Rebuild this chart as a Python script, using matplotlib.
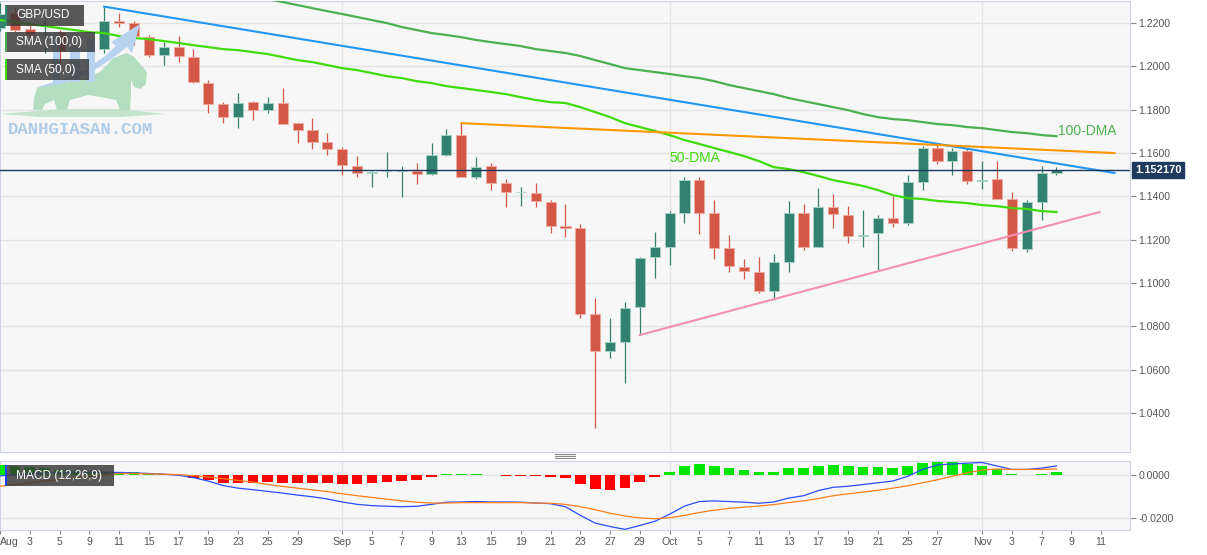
import matplotlib
matplotlib.use("Agg")
import matplotlib.pyplot as plt
import numpy as np
import pandas as pd
from matplotlib.patches import Rectangle, Polygon
from matplotlib.lines import Line2D

plt.rcParams['font.family'] = ['Liberation Sans', 'DejaVu Sans']

# --- data (GBP/USD daily, Aug 1 - Nov 8) ---
dates = pd.bdate_range('2022-08-01', '2022-11-08')

opens = [1.2176, 1.2246, 1.2172, 1.2150, 1.2158, 1.2073, 1.2078, 1.2080, 1.2209, 1.2200,
         1.2135, 1.2052, 1.2089, 1.2043, 1.1923, 1.1826, 1.1766, 1.1835, 1.1798, 1.1831,
         1.1738, 1.1706, 1.1651, 1.1618, 1.1540, 1.1508, 1.1515, 1.1519, 1.1517, 1.1503,
         1.1591, 1.1683, 1.1489, 1.1540, 1.1462, 1.1418, 1.1415, 1.1374, 1.1262, 1.1254,
         1.0857, 1.0686, 1.0728, 1.0889, 1.1120, 1.1166, 1.1323, 1.1475, 1.1323, 1.1162,
         1.1074, 1.1051, 1.0963, 1.1097, 1.1323, 1.1166, 1.1351, 1.1314, 1.1218, 1.1231,
         1.1300, 1.1277, 1.1466, 1.1623, 1.1563, 1.1609, 1.1471, 1.1480, 1.1388, 1.1157,
         1.1374, 1.1508]
highs = [1.2293, 1.2274, 1.2191, 1.2214, 1.2168, 1.2112, 1.2126, 1.2274, 1.2246, 1.2209,
         1.2145, 1.2112, 1.2140, 1.2080, 1.1937, 1.1835, 1.1877, 1.1840, 1.1858, 1.1900,
         1.1738, 1.1762, 1.1692, 1.1628, 1.1586, 1.1515, 1.1605, 1.1540, 1.1554, 1.1646,
         1.1711, 1.1738, 1.1582, 1.1554, 1.1480, 1.1443, 1.1462, 1.1383, 1.1365, 1.1272,
         1.0931, 1.0839, 1.0912, 1.1120, 1.1235, 1.1332, 1.1489, 1.1489, 1.1383, 1.1222,
         1.1111, 1.1120, 1.1134, 1.1378, 1.1365, 1.1438, 1.1411, 1.1355, 1.1337, 1.1314,
         1.1402, 1.1499, 1.1632, 1.1646, 1.1623, 1.1623, 1.1563, 1.1563, 1.1420, 1.1383,
         1.1540, 1.1535]
lows = [1.2165, 1.2158, 1.2135, 1.2062, 1.1997, 1.2052, 1.2062, 1.2062, 1.2182, 1.2098,
        1.2043, 1.2006, 1.2020, 1.1923, 1.1785, 1.1738, 1.1715, 1.1752, 1.1785, 1.1734,
        1.1646, 1.1618, 1.1591, 1.1499, 1.1489, 1.1443, 1.1489, 1.1397, 1.1457, 1.1499,
        1.1586, 1.1489, 1.1480, 1.1429, 1.1351, 1.1355, 1.1351, 1.1231, 1.1212, 1.0839,
        1.0331, 1.0654, 1.0539, 1.0760, 1.1023, 1.1083, 1.1277, 1.1226, 1.1111, 1.1051,
        1.1019, 1.0954, 1.0922, 1.1051, 1.1152, 1.1166, 1.1254, 1.1185, 1.1166, 1.1060,
        1.1258, 1.1268, 1.1429, 1.1549, 1.1499, 1.1457, 1.1434, 1.1388, 1.1148, 1.1143,
        1.1291, 1.1499]
closes = [1.2240, 1.2168, 1.2149, 1.2154, 1.2071, 1.2078, 1.2082, 1.2209, 1.2200, 1.2140,
          1.2052, 1.2089, 1.2048, 1.1928, 1.1826, 1.1766, 1.1831, 1.1798, 1.1831, 1.1734,
          1.1706, 1.1651, 1.1618, 1.1545, 1.1508, 1.1513, 1.1519, 1.1524, 1.1503, 1.1591,
          1.1683, 1.1489, 1.1535, 1.1462, 1.1420, 1.1422, 1.1379, 1.1263, 1.1256, 1.0857,
          1.0686, 1.0728, 1.0885, 1.1115, 1.1166, 1.1323, 1.1475, 1.1323, 1.1162, 1.1079,
          1.1055, 1.0963, 1.1097, 1.1323, 1.1166, 1.1351, 1.1319, 1.1217, 1.1224, 1.1300,
          1.1277, 1.1466, 1.1623, 1.1563, 1.1609, 1.1471, 1.1477, 1.1388, 1.1162, 1.1374,
          1.1508, 1.15217]

sma100 = [1.2542, 1.2528, 1.2514, 1.2505, 1.2491, 1.2477, 1.2463, 1.2454, 1.2440, 1.2426,
          1.2412, 1.2398, 1.2389, 1.2375, 1.2362, 1.2348, 1.2334, 1.2320, 1.2311, 1.2297,
          1.2283, 1.2269, 1.2255, 1.2242, 1.2228, 1.2214, 1.2200, 1.2182, 1.2168, 1.2154,
          1.2145, 1.2135, 1.2122, 1.2112, 1.2103, 1.2094, 1.2080, 1.2071, 1.2062, 1.2048,
          1.2029, 1.2011, 1.1992, 1.1983, 1.1974, 1.1965, 1.1955, 1.1946, 1.1932, 1.1914,
          1.1900, 1.1886, 1.1872, 1.1854, 1.1840, 1.1826, 1.1812, 1.1798, 1.1780, 1.1766,
          1.1757, 1.1752, 1.1743, 1.1734, 1.1729, 1.1720, 1.1715, 1.1706, 1.1697, 1.1692,
          1.1683, 1.1678]
sma50 = [1.2214, 1.2205, 1.2195, 1.2186, 1.2177, 1.2168, 1.2158, 1.2154, 1.2140, 1.2131,
         1.2126, 1.2117, 1.2108, 1.2098, 1.2089, 1.2080, 1.2075, 1.2066, 1.2057, 1.2043,
         1.2029, 1.2020, 1.2006, 1.1992, 1.1983, 1.1969, 1.1955, 1.1946, 1.1932, 1.1923,
         1.1909, 1.1900, 1.1891, 1.1882, 1.1872, 1.1858, 1.1845, 1.1835, 1.1831, 1.1812,
         1.1789, 1.1766, 1.1738, 1.1720, 1.1702, 1.1683, 1.1660, 1.1642, 1.1623, 1.1605,
         1.1586, 1.1563, 1.1535, 1.1526, 1.1512, 1.1494, 1.1475, 1.1462, 1.1448, 1.1429,
         1.1406, 1.1392, 1.1388, 1.1379, 1.1374, 1.1369, 1.1360, 1.1355, 1.1346, 1.1342,
         1.1332, 1.1328]

macd = [-0.0003, 0.0002, 0.0006, 0.0010, 0.0013, 0.0014, 0.0014, 0.0014, 0.0013, 0.0011,
        0.0008, 0.0005, 0.0000, -0.0011, -0.0027, -0.0048, -0.0060, -0.0067, -0.0075, -0.0083,
        -0.0092, -0.0100, -0.0110, -0.0124, -0.0135, -0.0141, -0.0144, -0.0146, -0.0144, -0.0135,
        -0.0125, -0.0124, -0.0122, -0.0124, -0.0124, -0.0125, -0.0129, -0.0132, -0.0146, -0.0186,
        -0.0222, -0.0238, -0.0251, -0.0233, -0.0214, -0.0181, -0.0143, -0.0122, -0.0119, -0.0122,
        -0.0125, -0.0130, -0.0124, -0.0106, -0.0095, -0.0071, -0.0056, -0.0051, -0.0043, -0.0035,
        -0.0027, -0.0005, 0.0027, 0.0048, 0.0052, 0.0056, 0.0059, 0.0043, 0.0027, 0.0027,
        0.0033, 0.0043]
signal = [-0.0051, -0.0043, -0.0035, -0.0027, -0.0019, -0.0013, -0.0005, 0.0003, 0.0008, 0.0008,
          0.0006, 0.0005, 0.0003, -0.0002, -0.0008, -0.0016, -0.0024, -0.0032, -0.0043, -0.0052,
          -0.0060, -0.0068, -0.0076, -0.0086, -0.0095, -0.0103, -0.0111, -0.0119, -0.0125, -0.0129,
          -0.0129, -0.0127, -0.0127, -0.0127, -0.0127, -0.0127, -0.0129, -0.0130, -0.0135, -0.0146,
          -0.0160, -0.0176, -0.0189, -0.0198, -0.0202, -0.0197, -0.0186, -0.0173, -0.0162, -0.0154,
          -0.0148, -0.0143, -0.0136, -0.0127, -0.0119, -0.0108, -0.0095, -0.0086, -0.0078, -0.0070,
          -0.0060, -0.0049, -0.0035, -0.0021, -0.0005, 0.0011, 0.0024, 0.0029, 0.0027, 0.0027,
          0.0027, 0.0029]
hist = [0.0048, 0.0044, 0.0037, 0.0032, 0.0024, 0.0019, 0.0016, 0.0014, 0.0016, 0.0013,
        0.0008, 0.0005, 0.0002, -0.0011, -0.0024, -0.0035, -0.0037, -0.0037, -0.0033, -0.0035,
        -0.0035, -0.0035, -0.0037, -0.0040, -0.0040, -0.0037, -0.0032, -0.0027, -0.0021, -0.0008,
        0.0005, 0.0005, 0.0004, 0.0003, -0.0002, -0.0003, -0.0005, -0.0008, -0.0011, -0.0040,
        -0.0063, -0.0067, -0.0057, -0.0033, -0.0010, 0.0016, 0.0043, 0.0052, 0.0044, 0.0033,
        0.0024, 0.0014, 0.0016, 0.0032, 0.0032, 0.0043, 0.0048, 0.0041, 0.0037, 0.0037,
        0.0035, 0.0044, 0.0059, 0.0060, 0.0063, 0.0052, 0.0043, 0.0029, 0.0005, 0.0002,
        0.0008, 0.0013]

# hand-drawn trend lines: (candle index, price)
blue_line = ([7, 74.9], [1.2276, 1.1508])
orange_line = ([31, 74.9], [1.1738, 1.1600])
pink_line = ([43, 73.9], [1.0760, 1.1328])

last_price = 1.15217
price_ticks = [1.04, 1.06, 1.08, 1.10, 1.12, 1.14, 1.16, 1.18, 1.20, 1.22]
macd_ticks = [-0.02, 0.0]

W, H = 1207, 555
GREEN, RED = '#33826f', '#d35847'

fig = plt.figure(figsize=(W / 100, H / 100), dpi=100)
fig.patch.set_facecolor('white')
ax = fig.add_axes([0, 1 - 452 / H, 1130 / W, 451 / H])
axm = fig.add_axes([0, 1 - 530 / H, 1130 / W, 69 / H], sharex=ax)

x = np.arange(len(dates))
month_start = [i for i in range(len(dates)) if i == 0 or dates[i].month != dates[i - 1].month]

# x tick labels: month name at first day, then every 2nd trading day
tick_idx, tick_lab = [], []
for k, s in enumerate(month_start):
    end = month_start[k + 1] if k + 1 < len(month_start) else s + 10
    for i in range(s, end - 1, 2):
        tick_idx.append(i)
        tick_lab.append(dates[s].strftime('%b') if i == s else str((dates[s] + pd.offsets.BDay(i - s)).day))

for a in (ax, axm):
    a.set_facecolor('#f7f7f7')
    for sp in a.spines.values():
        sp.set_color('#cdd3e4')
    a.yaxis.tick_right()
    a.tick_params(axis='y', length=4, color='#888888', labelsize=7.6, labelcolor='#555555', pad=2)
    for m in month_start[1:]:
        a.axvline(m, color='#e4e4e4', lw=1, zorder=0)

# watermark (rough logo + text)
wm_px = lambda pts: [(px / W, 1 - py / H) for px, py in pts]
def wm_poly(pts, fc):
    fig.add_artist(Polygon(wm_px(pts), closed=True, fc=fc, ec='none',
                           transform=fig.transFigure, zorder=1))

wm_poly([(0, 114), (60, 109), (120, 109), (165, 114), (120, 117), (40, 117)], '#c2e4cc')
wm_poly([(33, 110), (34, 98), (37, 88), (52, 84), (67, 82), (85, 78), (100, 72), (108, 64),
         (113, 58), (127, 53), (134, 57), (140, 64), (147, 72), (146, 84), (140, 89), (134, 87),
         (131, 80), (131, 95), (130, 110), (120, 110), (116, 100), (100, 97), (88, 95), (70, 100),
         (67, 110), (57, 110), (54, 100), (45, 104), (42, 110)], '#b3dfc0')
for bx0, bx1, by0 in [(53, 60, 33), (70, 80, 47), (87, 95, 38)]:
    wm_poly([(bx0, 82), (bx0, by0), (bx1, by0), (bx1, 82)], '#b6d2ee')
wm_poly([(35, 88), (60, 80), (85, 70), (104, 57), (116, 46), (111, 42), (140, 24), (132, 53),
         (127, 47), (110, 60), (90, 73), (62, 84)], '#b6d2ee')
fig.text(8 / W, 1 - 130 / H, 'DANHGIASAN.COM', fontsize=12.5, family='Liberation Mono',
         fontweight='bold', color='#aecbe7', va='center', ha='left', zorder=1)

# candles
for i in x:
    o, h, l, c = opens[i], highs[i], lows[i], closes[i]
    col = GREEN if c >= o else RED
    ec = '#a9d3c7' if c >= o else '#f2aaa0'
    ax.vlines(i, l, h, color=col, lw=0.9, zorder=3)
    ax.bar(i, max(abs(c - o), 0.0004), bottom=min(o, c), width=0.68, color=col,
           edgecolor=ec, linewidth=0.6, zorder=4)

ax.plot(x, sma100, color='#4caf50', lw=1.6, zorder=5)
ax.plot(x, sma50, color='#3fdc0a', lw=1.6, zorder=5)
ax.plot(*blue_line, color='#2196f3', lw=1.5, zorder=5)
ax.plot(*orange_line, color='#ff9800', lw=1.5, zorder=5)
ax.plot(*pink_line, color='#f48fb1', lw=1.5, zorder=5)
ax.axhline(last_price, color='#1d3a5c', lw=1.0, zorder=6)

ax.text(45.0, 1.1577, '50-DMA', color='#3fdc0a', fontsize=10, va='center', ha='left', zorder=7)
ax.text(71.1, 1.1702, '100-DMA', color='#4caf50', fontsize=10, va='center', ha='left', zorder=7)

ax.annotate(f'{last_price:.6f}', xy=(1.0, last_price), xycoords=('axes fraction', 'data'),
            xytext=(5, 0), textcoords='offset pixels', fontsize=8, fontweight='bold', color='white',
            va='center', ha='left', annotation_clip=False,
            bbox=dict(boxstyle='square,pad=0.25', fc='#1f3a5f', ec='#1f3a5f'))

ax.set_ylim(1.0220, 1.2302)
ax.set_yticks(price_ticks)
ax.set_yticklabels([f'{p:.4f}' for p in price_ticks])
ax.grid(axis='y', color='#e4e4e4', lw=1)
ax.set_axisbelow(True)
ax.tick_params(axis='x', bottom=False, labelbottom=False)
ax.set_xlim(0, 75.94)

# MACD panel
axm.bar(x, hist, width=0.72, color=['#00e600' if v >= 0 else '#ff0000' for v in hist], zorder=3)
axm.plot(x, macd, color='#2a4dff', lw=0.9, zorder=4)
axm.plot(x, signal, color='#ff7f1a', lw=0.9, zorder=4)
axm.set_ylim(-0.0254, 0.0066)
axm.set_yticks(macd_ticks)
axm.set_yticklabels([f'{v:.4f}' for v in macd_ticks])
axm.grid(axis='y', color='#e4e4e4', lw=1)
axm.set_axisbelow(True)
axm.set_xticks(tick_idx)
axm.set_xticklabels(tick_lab)
axm.tick_params(axis='x', length=3, color='#888888', labelsize=7.6, labelcolor='#555555', pad=2)
axm.set_xlim(0, 75.94)
lbl = axm.get_xticklabels()
lbl[0].set_horizontalalignment('left')

# legend boxes
def box(top, bottom, right, strip, text):
    fig.add_artist(Rectangle((5 / W, 1 - bottom / H), (right - 5) / W, (bottom - top) / H,
                             fc='#383838', alpha=0.83, ec='none', transform=fig.transFigure, zorder=10))
    fig.add_artist(Rectangle((5 / W, 1 - bottom / H), 2 / W, (bottom - top) / H,
                             fc=strip, ec='none', transform=fig.transFigure, zorder=11))
    fig.text(16 / W, 1 - (top + bottom) / 2 / H, text, color='white', fontsize=8.6,
             va='center', ha='left', zorder=12)

box(5, 26, 84, '#2e8b6e', 'GBP/USD')
box(32, 52, 95, '#4caf50', 'SMA (100,0)')
box(59, 80, 89, '#3fdc0a', 'SMA (50,0)')
box(465, 486, 114, '#2340ff', 'MACD (12,26,9)')

# panel resize handle
for yy in (454, 456, 458):
    fig.add_artist(Line2D([555 / W, 575 / W], [1 - yy / H, 1 - yy / H], color='#8a8a8a', lw=0.8,
                          transform=fig.transFigure))

fig.savefig('out.png', dpi=100, facecolor='white')
